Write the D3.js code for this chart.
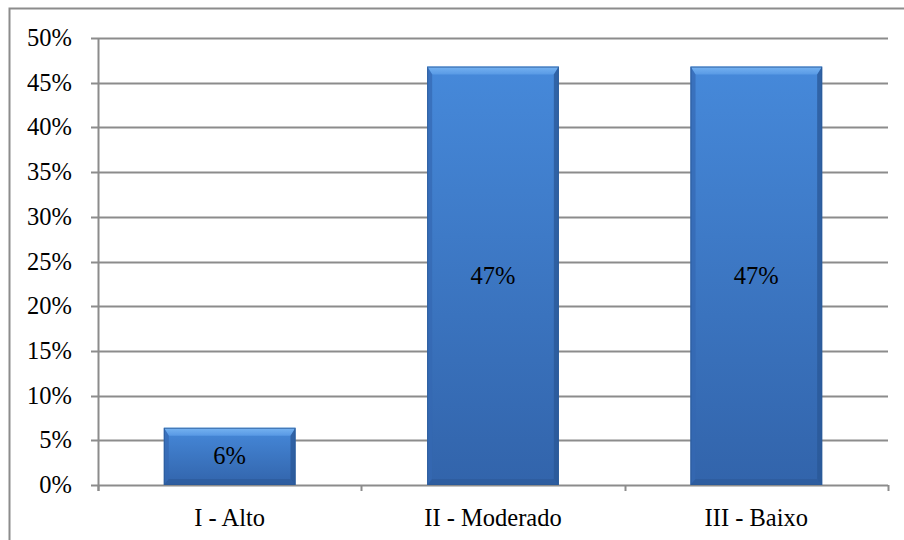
<!DOCTYPE html>
<html>
<head>
<meta charset="utf-8">
<script src="https://cdn.jsdelivr.net/npm/d3@7"></script>
<style>
  body { margin: 0; background: #fff; }
</style>
</head>
<body>
<div id="chart"></div>
<script>
// data
var categories = ["I - Alto", "II - Moderado", "III - Baixo"];
var values = [0.064, 0.468, 0.468];
var valueLabels = ["6%", "47%", "47%"];
var yTicks = [0, 0.05, 0.10, 0.15, 0.20, 0.25, 0.30, 0.35, 0.40, 0.45, 0.50];

var svgWidth = 904, svgHeight = 540;
var margin = { top: 38, right: 16, bottom: 55, left: 98 };
var width = 888 - margin.left;
var height = 485 - margin.top;
var fontSize = 24.5;
var fontFamily = "Liberation Serif";

var svg = d3.select("#chart").append("svg")
  .attr("width", svgWidth).attr("height", svgHeight);

// outer frame
svg.append("rect")
  .attr("x", 9.5).attr("y", 8.5)
  .attr("width", 904).attr("height", 540)
  .attr("fill", "none").attr("stroke", "#8c8c8c").attr("stroke-width", 2);

var defs = svg.append("defs");
var grad = defs.append("linearGradient").attr("id", "barFill")
  .attr("x1", 0).attr("y1", 0).attr("x2", 0).attr("y2", 1);
grad.append("stop").attr("offset", "0%").attr("stop-color", "#4689da");
grad.append("stop").attr("offset", "100%").attr("stop-color", "#3264ab");

var topGrad = defs.append("linearGradient").attr("id", "topBevel")
  .attr("x1", 0).attr("y1", 0).attr("x2", 0).attr("y2", 1);
topGrad.append("stop").attr("offset", "0%").attr("stop-color", "#7cb8f4");
topGrad.append("stop").attr("offset", "100%").attr("stop-color", "#5a9be6");

var g = svg.append("g").attr("transform", `translate(${margin.left},${margin.top})`);

var x = d3.scaleBand().domain(categories).range([0, width]).paddingInner(0.5).paddingOuter(0.25);
var xOuter = d3.scaleBand().domain(categories).range([0, width]);
var y = d3.scaleLinear().domain([0, 0.5]).range([height, 0]);

// gridlines
g.selectAll("line.grid").data(yTicks).enter().append("line")
  .attr("class", "grid")
  .attr("x1", -7).attr("x2", width)
  .attr("y1", d => Math.round(y(d)) + 0.5).attr("y2", d => Math.round(y(d)) + 0.5)
  .attr("stroke", "#8c8c8c").attr("stroke-width", 2);

// y axis line
g.append("line").attr("x1", 0.5).attr("x2", 0.5).attr("y1", 0).attr("y2", height + 6)
  .attr("stroke", "#8c8c8c").attr("stroke-width", 2);

// x ticks at category boundaries
var bounds = categories.map(c => xOuter(c)).concat([width]);
g.selectAll("line.xtick").data(bounds).enter().append("line")
  .attr("x1", d => Math.round(d) + 0.5).attr("x2", d => Math.round(d) + 0.5)
  .attr("y1", height).attr("y2", height + 6)
  .attr("stroke", "#8c8c8c").attr("stroke-width", 2);

// y labels
g.selectAll("text.ylab").data(yTicks).enter().append("text")
  .attr("x", -26).attr("y", d => y(d)).attr("dy", "0.33em")
  .attr("text-anchor", "end").attr("font-family", fontFamily)
  .attr("font-size", fontSize).attr("fill", "#000")
  .text(d => d3.format(".0%")(d));

// x labels
g.selectAll("text.xlab").data(categories).enter().append("text")
  .attr("x", d => x(d) + x.bandwidth() / 2).attr("y", height + 33)
  .attr("dy", "0.33em")
  .attr("text-anchor", "middle").attr("font-family", fontFamily)
  .attr("font-size", fontSize).attr("fill", "#000")
  .text(d => d);

// bars
var bars = g.selectAll("g.bar").data(categories).enter().append("g");
bars.each(function(c, i) {
  var sel = d3.select(this);
  var x0 = x(c), w = x.bandwidth();
  var y0 = y(values[i]), h = y(0) - y0;
  var bt = 8, bs = 5, bb = 6;
  sel.append("rect").attr("x", x0).attr("y", y0).attr("width", w).attr("height", h)
    .attr("fill", "url(#barFill)");
  // bevel edges
  sel.append("polygon")
    .attr("points", [[x0, y0], [x0 + w, y0], [x0 + w - bs, y0 + bt], [x0 + bs, y0 + bt]].join(" "))
    .attr("fill", "url(#topBevel)").attr("opacity", 0.9);
  sel.append("polygon")
    .attr("points", [[x0, y0], [x0 + bs, y0 + bt], [x0 + bs, y0 + h - bb], [x0, y0 + h]].join(" "))
    .attr("fill", "#3468b2").attr("opacity", 0.7);
  sel.append("polygon")
    .attr("points", [[x0 + w, y0], [x0 + w, y0 + h], [x0 + w - bs, y0 + h - bb], [x0 + w - bs, y0 + bt]].join(" "))
    .attr("fill", "#2a5796").attr("opacity", 0.75);
  sel.append("polygon")
    .attr("points", [[x0, y0 + h], [x0 + bs, y0 + h - bb], [x0 + w - bs, y0 + h - bb], [x0 + w, y0 + h]].join(" "))
    .attr("fill", "#2b5897").attr("opacity", 0.6);
  sel.append("rect").attr("x", x0 + 0.5).attr("y", y0 + 0.5).attr("width", w - 1).attr("height", h - 1)
    .attr("fill", "none").attr("stroke", "#2b5a99").attr("stroke-width", 1).attr("opacity", 0.8);
  sel.append("text")
    .attr("x", x0 + w / 2).attr("y", y0 + h / 2).attr("dy", "0.33em")
    .attr("text-anchor", "middle").attr("font-family", fontFamily)
    .attr("font-size", fontSize).attr("fill", "#000")
    .text(valueLabels[i]);
});
</script>
</body>
</html>
